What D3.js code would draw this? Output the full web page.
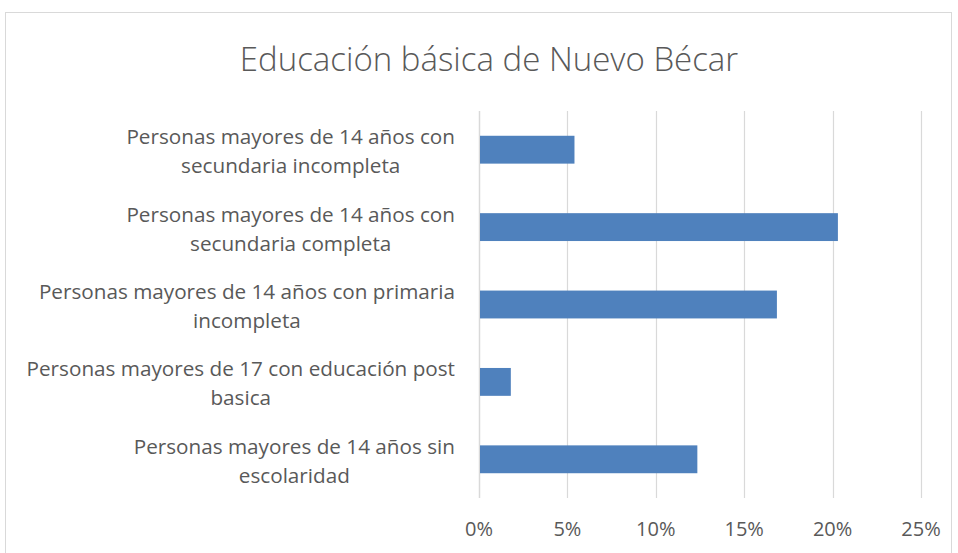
<!DOCTYPE html>
<html>
<head>
<meta charset="utf-8">
<script src="https://cdn.jsdelivr.net/npm/d3@7"></script>
<style>
  body { margin: 0; background: #fff; }
  text { font-family: "Open Sans", "Noto Sans", sans-serif; fill: #595959; }
</style>
</head>
<body>
<script>
// categories, top to bottom as they appear
var categories = [
  ['Personas mayores de 14 años con', 'secundaria incompleta'],
  ['Personas mayores de 14 años con', 'secundaria completa'],
  ['Personas mayores de 14 años con primaria', 'incompleta'],
  ['Personas mayores de 17 con educación post', 'basica'],
  ['Personas mayores de 14 años sin', 'escolaridad']
];
var values = [0.054, 0.203, 0.1685, 0.018, 0.1235];
var ticks = [0, 0.05, 0.10, 0.15, 0.20, 0.25];

var W = 958, H = 553;
var plot = {left: 479, right: 921, top: 111, bottom: 498};

var svg = d3.select('body').append('svg')
  .attr('width', W)
  .attr('height', H);

// chart frame
svg.append('rect')
  .attr('x', 5.5).attr('y', 12.5)
  .attr('width', 946).attr('height', 560)
  .attr('fill', '#fff')
  .attr('stroke', '#d9d9d9');

svg.append('text')
  .text('Educación básica de Nuevo Bécar')
  .attr('x', 489)
  .attr('y', 71)
  .attr('text-anchor', 'middle')
  .attr('font-size', 33)
  .attr('font-weight', 300);

var x = d3.scaleLinear().domain([0, 0.25]).range([plot.left, plot.right]);
var y = d3.scaleBand().domain(d3.range(values.length))
  .range([plot.top, plot.bottom])
  .paddingInner(0.64).paddingOuter(0.32);

// gridlines
svg.selectAll('.grid')
  .data(ticks).enter().append('line')
  .attr('x1', function(d){return Math.round(x(d)) + 0.5;})
  .attr('x2', function(d){return Math.round(x(d)) + 0.5;})
  .attr('y1', plot.top)
  .attr('y2', plot.bottom)
  .attr('stroke', '#d9d9d9')
  .attr('stroke-width', function(d, i){return i == 0 ? 1.5 : 1.2;});

svg.selectAll('.bar')
  .data(values).enter().append('rect')
  .attr('x', x(0) + 1)
  .attr('y', function(d, i){return y(i);})
  .attr('width', function(d){return x(d) - x(0) - 1;})
  .attr('height', y.bandwidth())
  .attr('fill', '#4f81bd');

// x tick labels
svg.selectAll('.xlabel')
  .data(ticks).enter().append('text')
  .text(d3.format('.0%'))
  .attr('x', function(d){return x(d);})
  .attr('y', 536)
  .attr('text-anchor', 'middle')
  .attr('font-size', 20);

// category labels: lines centred, block right edge near the axis
var lineH = 29;
categories.forEach(function(lines, i){
  var g = svg.append('g');
  var cy = y(i) + y.bandwidth() / 2;
  var t = g.selectAll('text').data(lines).enter().append('text')
    .text(function(d){return d;})
    .attr('font-size', 20.7)
    .attr('text-anchor', 'middle')
    .attr('y', function(d, j){return cy + (j - (lines.length - 1) / 2) * lineH + 9;});
  var maxW = d3.max(t.nodes(), function(n){return n.getComputedTextLength();});
  t.attr('x', 455 - maxW / 2);
});
</script>
</body>
</html>
